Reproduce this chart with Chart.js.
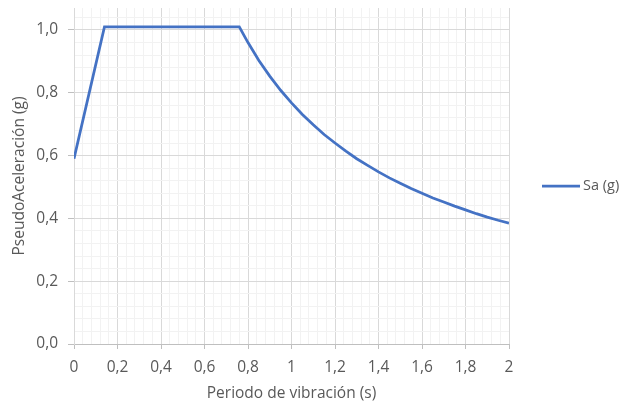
<!DOCTYPE html>
<html>
<head>
<meta charset="utf-8">
<script src="https://cdn.jsdelivr.net/npm/chart.js@4.4.1/dist/chart.umd.min.js"></script>
<style>
  body { margin: 0; background: #fff; }
</style>
</head>
<body>
<canvas id="espectro" width="624" height="405"></canvas>
<script>
// periodo T (s) y pseudoaceleracion Sa (g)
let periodos = [0, 0.14, 0.76, 0.80, 0.85, 0.90, 0.95, 1.00, 1.05, 1.10, 1.15, 1.20, 1.25, 1.30,
    1.35, 1.40, 1.45, 1.50, 1.55, 1.60, 1.65, 1.70, 1.75, 1.80, 1.85, 1.90, 1.95, 2.00];
let sa = [0.59, 1.01, 1.01, 0.960, 0.903, 0.853, 0.808, 0.768, 0.731, 0.698, 0.667, 0.640, 0.614, 0.590,
    0.569, 0.548, 0.529, 0.512, 0.495, 0.480, 0.465, 0.452, 0.439, 0.427, 0.415, 0.404, 0.394, 0.385];

let serieNombre = 'Sa (g)';
let tituloX = 'Periodo de vibración (s)';
let tituloY = 'PseudoAceleración (g)';

// divisiones principales y secundarias de los ejes
let xMin = 0, xMax = 2, yMin = 0, yMax = 1.07;
let paso = 0.2, pasoMenor = 0.04;

let gris = '#595959';
let azul = '#4472C4';
let fuente = 'Open Sans';
let tam = 15.5;

function esPrincipal(v) {
    let r = v / paso;
    return Math.abs(r - Math.round(r)) < 1e-6;
}

function marcas(min, max) {
    let lista = [];
    let n = Math.round((max - min) / pasoMenor);
    for (let i = 0; i <= n; i++) {
        let v = +(min + i * pasoMenor).toFixed(4);
        if (v <= max + 1e-9) lista.push({ value: v });
    }
    return lista;
}

function gridColor(ctx) {
    if (!ctx.tick) return '#d9d9d9';
    return esPrincipal(ctx.tick.value) ? '#d9d9d9' : '#f2f2f2';
}

function tickColor(ctx) {
    if (!ctx.tick) return '#bfbfbf';
    return esPrincipal(ctx.tick.value) ? '#bfbfbf' : 'rgba(0,0,0,0)';
}

const leyenda = {
    id: 'leyenda',
    afterDraw(chart) {
        let c = chart.ctx;
        let y = 186;
        c.save();
        c.strokeStyle = azul;
        c.lineWidth = 2.75;
        c.beginPath();
        c.moveTo(542, y);
        c.lineTo(580, y);
        c.stroke();
        c.fillStyle = gris;
        c.font = (tam - 1) + 'px "' + fuente + '"';
        c.textBaseline = 'middle';
        c.fillText(chart.data.datasets[0].label, 583, y);
        c.restore();
    }
};

let puntos = periodos.map((t, i) => ({ x: t, y: sa[i] }));

let ctx = document.getElementById('espectro');
let grafico = new Chart(ctx, {
    type: 'line',
    data: {
        datasets: [{
            label: serieNombre,
            data: puntos,
            borderColor: azul,
            borderWidth: 2.75,
            pointRadius: 0,
            tension: 0,
            fill: false
        }]
    },
    options: {
        responsive: false,
        animation: false,
        layout: { padding: { left: 0, top: 8, right: 115, bottom: 0 } },
        plugins: {
            legend: { display: false },
            tooltip: { enabled: false }
        },
        scales: {
            x: {
                type: 'linear',
                min: xMin,
                max: xMax,
                afterBuildTicks: axis => { axis.ticks = marcas(xMin, xMax); },
                afterFit: axis => { axis.height = 61; axis.paddingLeft = 0; axis.paddingRight = 0; },
                grid: { color: gridColor, tickColor: tickColor, tickLength: 5, lineWidth: 1 },
                border: { color: '#bfbfbf' },
                ticks: {
                    autoSkip: false,
                    maxRotation: 0,
                    padding: 9,
                    color: gris,
                    font: { family: fuente, size: tam },
                    callback: v => esPrincipal(v) ? String(+v.toFixed(1)).replace('.', ',') : ''
                },
                title: {
                    display: true,
                    text: tituloX,
                    color: gris,
                    font: { family: fuente, size: tam },
                    padding: { top: 0, bottom: 2 }
                }
            },
            y: {
                type: 'linear',
                min: yMin,
                max: yMax,
                afterBuildTicks: axis => { axis.ticks = marcas(yMin, 1.04); },
                afterFit: axis => { axis.width = 74; axis.paddingTop = 0; axis.paddingBottom = 0; },
                grid: { color: gridColor, tickColor: tickColor, tickLength: 6, lineWidth: 1 },
                border: { color: '#d9d9d9' },
                ticks: {
                    autoSkip: false,
                    padding: 10,
                    color: gris,
                    font: { family: fuente, size: tam },
                    callback: v => esPrincipal(v) ? v.toFixed(1).replace('.', ',') : ''
                },
                title: {
                    display: true,
                    text: tituloY,
                    color: gris,
                    font: { family: fuente, size: tam },
                    padding: { top: 10, bottom: 0 }
                }
            }
        }
    },
    plugins: [leyenda]
});
</script>
</body>
</html>
